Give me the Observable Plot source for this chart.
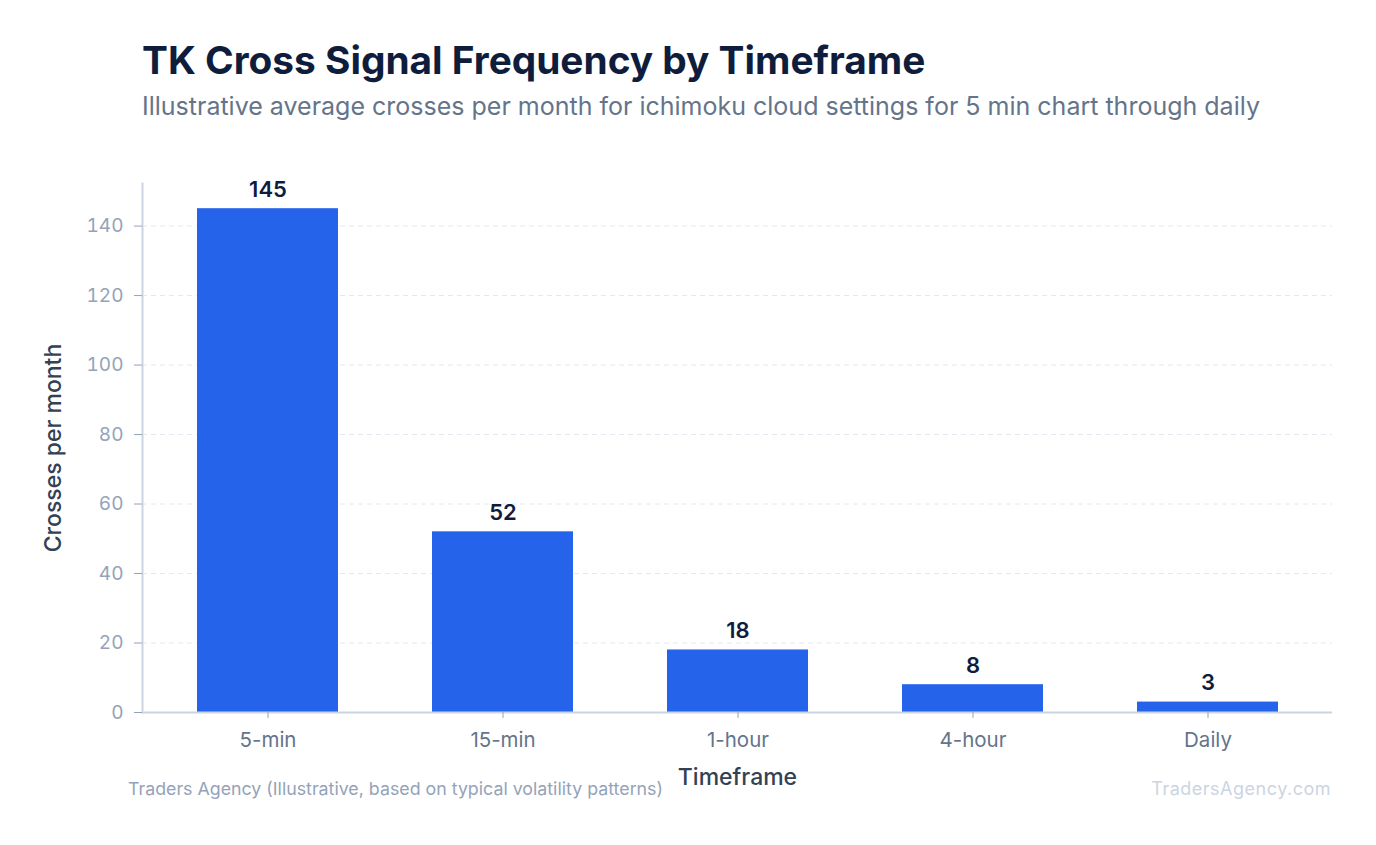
<!DOCTYPE html>
<html>
<head>
<meta charset="utf-8">
<script src="https://cdn.jsdelivr.net/npm/d3@7"></script>
<script src="https://cdn.jsdelivr.net/npm/@observablehq/plot@0.6"></script>
<style>
  html, body { margin: 0; padding: 0; background: #ffffff; }
  body { width: 1376px; height: 845px; position: relative; overflow: hidden; font-family: Inter, "Noto Sans", sans-serif; }
  #title { position: absolute; left: 142px; top: 37px; font-size: 38.8px; font-weight: 700; color: #0f1d3d; line-height: 1.2; white-space: nowrap; }
  #subtitle { position: absolute; left: 142px; top: 91px; font-size: 25px; font-weight: 400; color: #64748b; line-height: 1.2; white-space: nowrap; }
  #chart { position: absolute; left: 0; top: 140px; }
  #source { position: absolute; left: 128px; top: 778px; font-size: 17.8px; color: #94a3b8; white-space: nowrap; }
  #brand { position: absolute; right: 45px; top: 778px; font-size: 18px; letter-spacing: 0.5px; color: #cbd5e1; white-space: nowrap; }
</style>
</head>
<body>
<div id="title">TK Cross Signal Frequency by Timeframe</div>
<div id="subtitle">Illustrative average crosses per month for ichimoku cloud settings for 5 min chart through daily</div>
<div id="chart"></div>
<div id="source">Traders Agency (Illustrative, based on typical volatility patterns)</div>
<div id="brand">TradersAgency.com</div>
<script>
const timeframes = ["5-min", "15-min", "1-hour", "4-hour", "Daily"];
const crosses = [145, 52, 18, 8, 3];
const yTicks = [0, 20, 40, 60, 80, 100, 120, 140];

const data = timeframes.map((t, i) => ({timeframe: t, value: crosses[i]}));

const chart = Plot.plot({
  width: 1376,
  height: 670,
  marginLeft: 142,
  marginRight: 44,
  marginTop: 43,
  marginBottom: 98,
  style: {fontFamily: "Inter, 'Noto Sans', sans-serif", background: "transparent", overflow: "visible"},
  x: {domain: timeframes, paddingInner: 0.4, paddingOuter: 0.227, label: null},
  y: {domain: [0, 152.25], label: null},
  marks: [
    Plot.gridY(yTicks.filter(d => d > 0), {stroke: "#e2e8f0", strokeOpacity: 1, strokeDasharray: "5,4", strokeWidth: 1}),
    Plot.barY(data, {x: "timeframe", y: "value", fill: "#2563eb"}),
    Plot.ruleY([0], {stroke: "#cbd5e1", strokeWidth: 2}),
    Plot.frame({anchor: "left", stroke: "#cbd5e1", strokeWidth: 2}),
    Plot.axisY({ticks: yTicks, tickSize: 8, tickPadding: 11, stroke: "#94a3b8", fill: "#94a3b8", fontSize: 19, label: null}),
    Plot.axisX({tickSize: 6, tickPadding: 14, stroke: "#94a3b8", fill: "#64748b", fontSize: 20.5, label: null}),
    Plot.text(data, {x: "timeframe", y: "value", text: d => String(d.value), dy: -12, lineAnchor: "bottom", fontSize: 22, fontWeight: 600, fill: "#0f1d3d"}),
    Plot.text(["Timeframe"], {frameAnchor: "bottom", dy: 72, fontSize: 23, fill: "#334155", fontWeight: 500}),
    Plot.text(["Crosses per month"], {frameAnchor: "left", textAnchor: "middle", dx: -89, rotate: -90, fontSize: 23, fill: "#334155", fontWeight: 500})
  ]
});
document.getElementById("chart").appendChild(chart);
</script>
</body>
</html>
